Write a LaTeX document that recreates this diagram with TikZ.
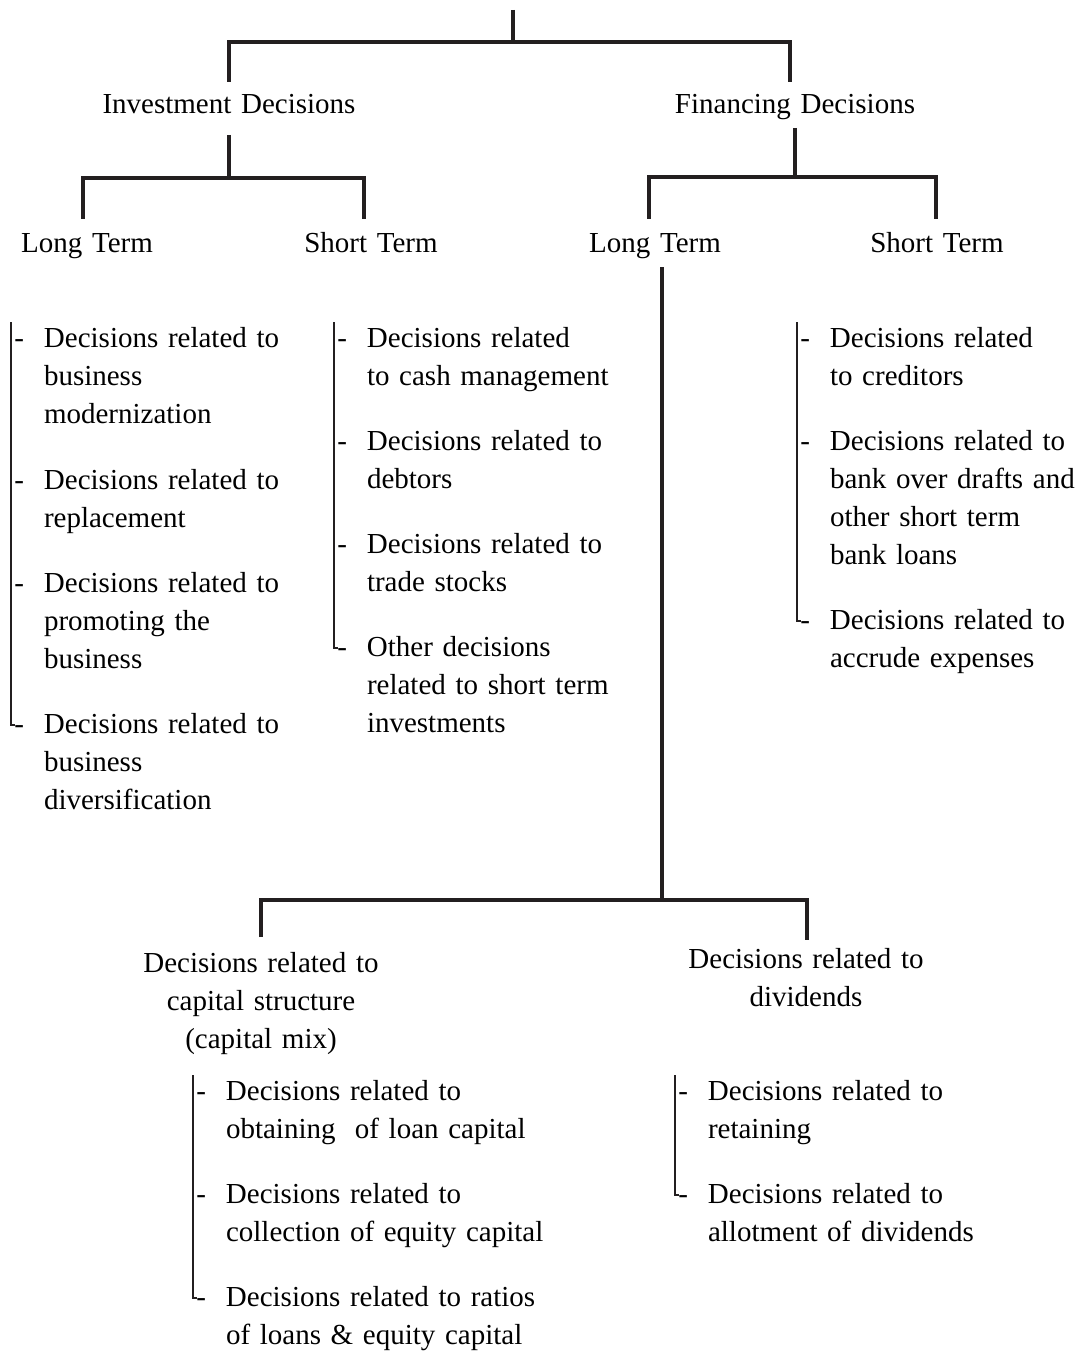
\documentclass[tikz,border=0pt]{standalone}
\usepackage{fontspec}
\setmainfont{Liberation Serif}
\definecolor{ink}{RGB}{35,31,32}
\newcommand{\bul}{\llap{-\hspace{20pt}}}
\begin{document}
\begin{tikzpicture}[x=1pt,y=-1pt,
  every node/.style={inner sep=0pt, outer sep=0pt, text=black,
    font=\fontsize{29}{38}\selectfont},
  lbl/.style={text width=320pt, align=center, anchor=base},
  item/.style={text width=320pt, align=left, anchor=base west},
  link/.style={line width=3.2pt, draw=ink},
  brace/.style={line width=2.8pt, draw=ink},
]
\useasboundingbox (0,0) rectangle (1087,1356);

% ---- headings ----
\node[lbl] (inv) at (229,114) {Investment Decisions};
\node[lbl] (fin) at (795,114) {Financing Decisions};
\node[lbl] (ilt) at (87,253)  {Long Term};
\node[lbl] (ist) at (371,253) {Short Term};
\node[lbl] (flt) at (655,253) {Long Term};
\node[lbl] (fst) at (937,253) {Short Term};
\node[lbl] (cap) at (261,972) {Decisions related to\\capital structure\\(capital mix)};
\node[lbl] (div) at (806,968) {Decisions related to\\dividends};

% ---- tree connectors ----
\coordinate (root) at (513,10);
\coordinate (rj) at (513,42);
\draw[link] (root) -- (rj);
\draw[link] ([shift={(0,-32)}]inv.base) -- ([shift={(0,-72)}]inv.base)
  -- ([shift={(-5,-72)}]fin.base) -- ([shift={(-5,-32)}]fin.base);

\draw[link] ([shift={(0,21)}]inv.base) -- ([shift={(0,64)}]inv.base);
\draw[link] ([shift={(-4,-34)}]ilt.base) |- ([shift={(0,64)}]inv.base)
  -| ([shift={(-7,-34)}]ist.base);

\draw[link] ([shift={(0,14)}]fin.base) -- ([shift={(0,63)}]fin.base);
\draw[link] ([shift={(-6,-34)}]flt.base) |- ([shift={(0,63)}]fin.base)
  -| ([shift={(-1,-34)}]fst.base);

\draw[link] ([shift={(7,14)}]flt.base) -- ([shift={(7,647)}]flt.base);
\draw[link] ([shift={(0,-35)}]cap.base) |- ([shift={(7,647)}]flt.base)
  -| ([shift={(1,-28)}]div.base);

% ---- investment, long term ----
\node[item] (il1) at (44,347) {\bul Decisions related to\\business\\modernization};
\node[item] (il2) at (44,489) {\bul Decisions related to\\replacement};
\node[item] (il3) at (44,592) {\bul Decisions related to\\promoting the\\business};
\node[item] (il4) at (44,733) {\bul Decisions related to\\business\\diversification};
\draw[brace] ([shift={(-33,-25)}]il1.base west) -- ([shift={(-33,-8)}]il4.base west) -- ++(4,0);

% ---- investment, short term ----
\node[item] (is1) at (367,347) {\bul Decisions related\\to cash management};
\node[item] (is2) at (367,450) {\bul Decisions related to\\debtors};
\node[item] (is3) at (367,553) {\bul Decisions related to\\trade stocks};
\node[item] (is4) at (367,656) {\bul Other decisions\\related to short term\\investments};
\draw[brace] ([shift={(-33,-25)}]is1.base west) -- ([shift={(-33,-8)}]is4.base west) -- ++(4,0);

% ---- financing, short term ----
\node[item] (fs1) at (830,347) {\bul Decisions related\\to creditors};
\node[item] (fs2) at (830,450) {\bul Decisions related to\\bank over drafts and\\other short term\\bank loans};
\node[item] (fs3) at (830,629) {\bul Decisions related to\\accrude expenses};
\draw[brace] ([shift={(-33,-25)}]fs1.base west) -- ([shift={(-33,-8)}]fs3.base west) -- ++(4,0);

% ---- capital structure ----
\node[item] (cs1) at (226,1100) {\bul Decisions related to\\obtaining\ \ of loan capital};
\node[item] (cs2) at (226,1203) {\bul Decisions related to\\collection of equity capital};
\node[item] (cs3) at (226,1306) {\bul Decisions related to ratios\\of loans \& equity capital};
\draw[brace] ([shift={(-33,-25)}]cs1.base west) -- ([shift={(-33,-8)}]cs3.base west) -- ++(4,0);

% ---- dividends ----
\node[item] (dv1) at (708,1100) {\bul Decisions related to\\retaining};
\node[item] (dv2) at (708,1203) {\bul Decisions related to\\allotment of dividends};
\draw[brace] ([shift={(-33,-25)}]dv1.base west) -- ([shift={(-33,-8)}]dv2.base west) -- ++(4,0);
\end{tikzpicture}
\end{document}
